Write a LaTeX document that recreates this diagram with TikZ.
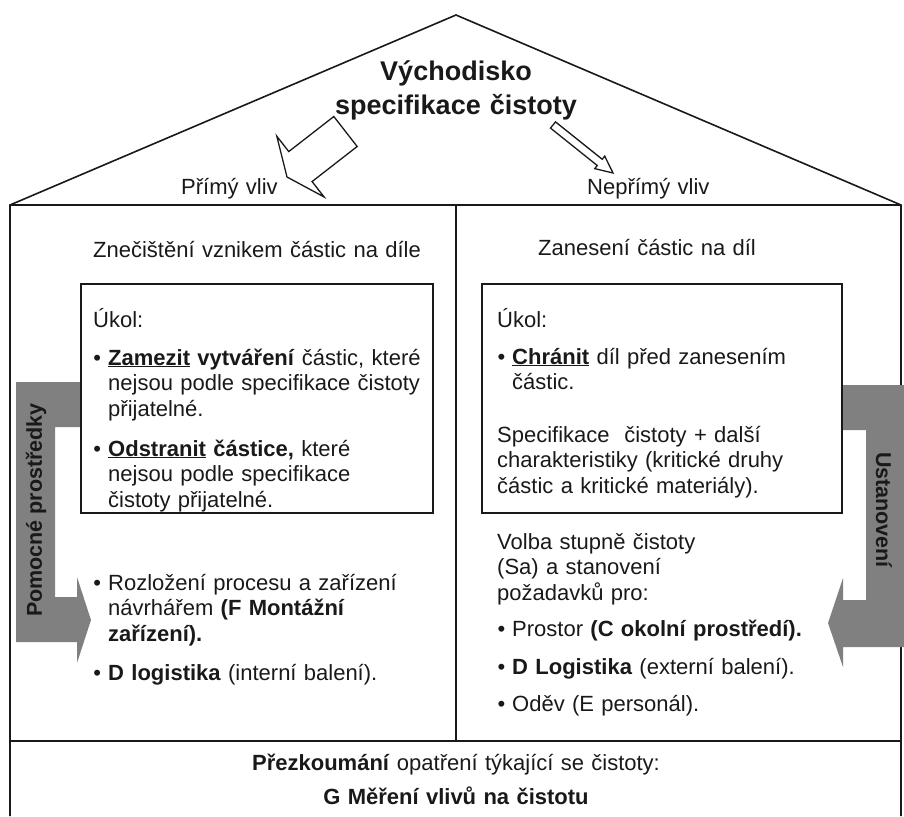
\documentclass[tikz,border=0pt]{standalone}
\usepackage{fontspec}
\setmainfont{Liberation Sans}
\usetikzlibrary{calc}
\definecolor{aidGray}{RGB}{128,128,128}
\definecolor{inkBlack}{RGB}{25,25,25}
\newcommand{\bodyfont}{\fontsize{22}{25.5}\selectfont\lineskiplimit=-20pt}
\newcommand{\headfont}{\fontsize{27}{32}\selectfont\bfseries\lineskiplimit=-20pt}
\newcommand{\sidefont}{\fontsize{21.5}{24}\selectfont\bfseries}
\newcommand{\bul}{\makebox[0pt][r]{•\hspace{7pt}}}
\newcommand{\keyword}[1]{\underline{\textbf{#1}}}
% hollow block arrow: tail, tip, half shaft, half head, head length
\newcommand{\hollowarrow}[5]{%
  \coordinate (hb) at ($(#2)!#5!(#1)$);
  \draw[roofarrow] ($(#1)!#3!90:(#2)$) -- ($(hb)!#3!90:(#2)$) -- ($(hb)!#4!90:(#2)$) -- (#2)
    -- ($(hb)!#4!-90:(#2)$) -- ($(hb)!#3!-90:(#2)$) -- ($(#1)!#3!-90:(#2)$) -- cycle;}

\begin{document}
\begin{tikzpicture}[x=1pt,y=-1pt,
    frame/.style={draw=inkBlack,line width=1.6pt},
    taskbox/.style={draw=inkBlack,line width=1.6pt,anchor=north west,inner sep=0pt},
    txt/.style={anchor=base west,inner sep=0pt,text width=340pt,align=left,
                font=\bodyfont,text=inkBlack},
    mid/.style={anchor=base,inner sep=0pt,text width=700pt,align=center,
                font=\bodyfont,text=inkBlack},
    side/.style={font=\sidefont,text=inkBlack,inner sep=0pt},
    roofarrow/.style={draw=inkBlack,line width=1.3pt,fill=white,line join=miter}]
  \useasboundingbox (0,0) rectangle (904,816);
  % house outline
  \draw[frame] (10,816) -- (10,205) -- (456,15) -- (901,205) -- (901,816);
  \draw[frame] (10,205) -- (901,205);
  \draw[frame] (456,205) -- (456,741);
  \draw[frame] (10,741) -- (901,741);
  % grey brackets
  \fill[aidGray] (80,382) -- (16,382) -- (16,642) -- (77,642) -- (77,663) -- (91,620)
    -- (77,577) -- (77,597) -- (55,597) -- (55,427) -- (80,427) -- cycle;
  \fill[aidGray] (841,385) -- (904,385) -- (904,647) -- (843,647) -- (843,667) -- (828,623)
    -- (843,578) -- (843,600) -- (866,600) -- (866,430) -- (841,430) -- cycle;
  \node[side,rotate=90] (aids) at (36,510) {Pomocné prostředky};
  \node[side,rotate=-90] (setting) at (884,510) {Ustanovení};
  % roof
  \node[mid,font=\headfont,text width=400pt] (source) at (456,81) {Východisko\\[1pt]specifikace čistoty};
  \node[txt] (direct) at (181,194) {Přímý vliv};
  \node[txt] (indirect) at (587,194) {Nepřímý vliv};
  \coordinate (directtail) at (345.5,131.5);
  \coordinate (directtip) at (287,177);
  \hollowarrow{directtail}{directtip}{19pt}{38.5pt}{17pt}
  \coordinate (indirecttail) at (553,125);
  \coordinate (indirecttip) at (613,173);
  \hollowarrow{indirecttail}{indirecttip}{4pt}{8pt}{17pt}
  % left room
  \node[txt] (formation) at (93,257) {Znečištění vznikem částic na díle};
  \node[taskbox,minimum width=352pt,minimum height=229pt] (lefttask) at (80,283) {};
  \node[txt] (lefttitle) at (93,327) {Úkol:};
  \node[txt] (prevent) at (108,365) {\bul\keyword{Zamezit} \textbf{vytváření} částic, které\\nejsou podle specifikace čistoty\\přijatelné.};
  \node[txt] (remove) at (108,456) {\bul\keyword{Odstranit} \textbf{částice,} které\\nejsou podle specifikace\\čistoty přijatelné.};
  \node[txt] (layout) at (108,590) {\bul Rozložení procesu a zařízení\\návrhářem \textbf{(F Montážní}\\\textbf{zařízení).}};
  \node[txt] (innerpack) at (108,680) {\bul\textbf{D logistika} (interní balení).};
  % right room
  \node[txt] (transfer) at (538,255) {Zanesení částic na díl};
  \node[taskbox,minimum width=360pt,minimum height=229pt] (righttask) at (481,283) {};
  \node[txt] (righttitle) at (497,327) {Úkol:};
  \node[txt] (protect) at (512,364) {\bul\keyword{Chránit} díl před zanesením\\částic.};
  \node[txt] (spec) at (497,442) {Specifikace\ \ čistoty + další\\charakteristiky (kritické druhy\\částic a kritické materiály).};
  \node[txt] (level) at (497,549) {Volba stupně čistoty\\(Sa) a stanovení\\požadavků pro:};
  \node[txt] (room) at (512,636) {\bul Prostor \textbf{(C okolní prostředí).}};
  \node[txt] (outerpack) at (512,674) {\bul\textbf{D Logistika} (externí balení).};
  \node[txt] (clothing) at (512,711) {\bul Oděv (E personál).};
  % foundation
  \node[mid] (review) at (456,770) {\textbf{Přezkoumání} opatření týkající se čistoty:};
  \node[mid] (measure) at (456,804) {\textbf{G Měření vlivů na čistotu}};
\end{tikzpicture}
\end{document}
